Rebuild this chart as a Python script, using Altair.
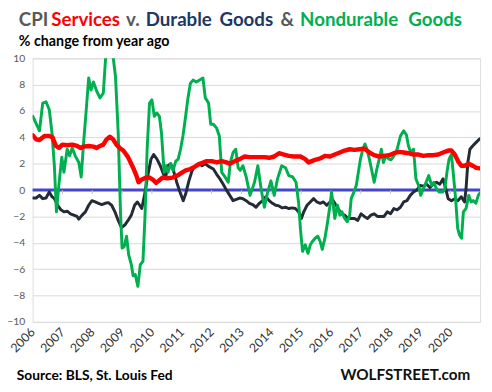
import altair as alt
import pandas as pd

# (year fraction, % change y/y)
services = [
    (2006.01, 4.15), (2006.12, 3.85), (2006.23, 3.8), (2006.40, 4.1), (2006.56, 4.1),
    (2006.67, 4.0), (2006.78, 3.35), (2006.89, 3.2), (2007.00, 3.45), (2007.16, 3.4),
    (2007.33, 3.45), (2007.49, 3.35), (2007.60, 3.2), (2007.71, 3.3), (2007.88, 3.35),
    (2008.04, 3.3), (2008.15, 3.2), (2008.26, 3.35), (2008.37, 3.45), (2008.48, 3.85),
    (2008.59, 4.05), (2008.70, 3.85), (2008.81, 3.45), (2008.92, 3.2), (2009.04, 3.0),
    (2009.20, 2.5), (2009.37, 1.7), (2009.48, 1.1), (2009.55, 0.6), (2009.66, 0.8),
    (2009.81, 0.95), (2009.92, 0.95), (2010.03, 0.8), (2010.14, 0.55), (2010.25, 0.75),
    (2010.36, 0.95), (2010.52, 0.9), (2010.69, 0.95), (2010.85, 1.1), (2011.02, 1.35),
    (2011.13, 1.5), (2011.29, 1.6), (2011.46, 1.8), (2011.60, 2.0), (2011.73, 2.1),
    (2011.84, 2.2), (2012.01, 2.2), (2012.17, 2.1), (2012.34, 2.2), (2012.50, 2.1),
    (2012.61, 2.0), (2012.78, 2.2), (2012.94, 2.35), (2013.11, 2.55), (2013.27, 2.5),
    (2013.44, 2.5), (2013.60, 2.5), (2013.77, 2.5), (2013.93, 2.45), (2014.10, 2.55),
    (2014.26, 2.8), (2014.43, 2.7), (2014.59, 2.6), (2014.76, 2.55), (2014.98, 2.55),
    (2015.14, 2.35), (2015.25, 2.1), (2015.36, 2.2), (2015.47, 2.3), (2015.64, 2.4),
    (2015.80, 2.6), (2015.97, 2.55), (2016.13, 2.7), (2016.30, 2.85), (2016.46, 3.0),
    (2016.63, 3.1), (2016.79, 3.05), (2016.96, 3.1), (2017.12, 3.15), (2017.29, 2.85),
    (2017.45, 2.65), (2017.62, 2.55), (2017.78, 2.6), (2017.95, 2.65), (2018.11, 2.8),
    (2018.28, 2.9), (2018.44, 2.85), (2018.60, 2.8), (2018.77, 2.7), (2018.94, 2.7),
    (2019.10, 2.6), (2019.27, 2.65), (2019.43, 2.65), (2019.60, 2.7), (2019.76, 2.85),
    (2019.93, 3.0), (2020.04, 3.0), (2020.15, 2.7), (2020.26, 2.2), (2020.37, 1.85),
    (2020.48, 1.85), (2020.62, 2.0), (2020.75, 1.85), (2020.86, 1.7), (2020.99, 1.65),
]

durable = [
    (2006.01, -0.6), (2006.12, -0.6), (2006.23, -0.4), (2006.34, -0.65), (2006.45, -0.6),
    (2006.56, -0.15), (2006.65, -0.5), (2006.73, -0.65), (2006.84, -1.15), (2006.95, -1.5),
    (2007.05, -1.65), (2007.16, -1.6), (2007.27, -1.8), (2007.38, -1.9), (2007.49, -2.0),
    (2007.55, -2.2), (2007.66, -1.9), (2007.77, -1.65), (2007.88, -1.15), (2007.99, -0.8),
    (2008.10, -0.9), (2008.21, -1.0), (2008.32, -1.1), (2008.43, -1.0), (2008.54, -0.95),
    (2008.65, -1.15), (2008.76, -1.65), (2008.87, -2.3), (2008.98, -2.85), (2009.09, -2.65),
    (2009.20, -2.3), (2009.31, -1.9), (2009.42, -1.15), (2009.51, -0.9), (2009.59, -1.15),
    (2009.66, -1.4), (2009.75, -0.4), (2009.86, 1.1), (2009.97, 2.35), (2010.06, 2.7),
    (2010.17, 2.35), (2010.28, 1.85), (2010.39, 1.2), (2010.47, 1.1), (2010.54, 1.85),
    (2010.63, 2.0), (2010.72, 1.5), (2010.83, 0.6), (2010.94, -0.15), (2011.05, -0.8),
    (2011.13, -0.3), (2011.24, 0.7), (2011.35, 1.5), (2011.46, 1.85), (2011.57, 2.0),
    (2011.68, 1.85), (2011.79, 2.0), (2011.90, 1.8), (2012.06, 1.6), (2012.17, 1.2),
    (2012.28, 0.85), (2012.39, 0.45), (2012.50, 0.0), (2012.61, -0.4), (2012.72, -0.8),
    (2012.83, -0.7), (2012.94, -0.6), (2013.05, -0.65), (2013.16, -0.8), (2013.27, -1.0),
    (2013.38, -1.1), (2013.49, -1.3), (2013.60, -1.0), (2013.71, -0.8), (2013.82, -0.5),
    (2013.93, -0.8), (2014.04, -1.0), (2014.15, -1.15), (2014.26, -1.2), (2014.37, -1.35),
    (2014.48, -1.3), (2014.59, -1.4), (2014.70, -1.35), (2014.81, -1.4), (2014.92, -1.65),
    (2015.01, -2.15), (2015.09, -1.65), (2015.20, -1.15), (2015.31, -0.9), (2015.42, -0.65),
    (2015.53, -0.9), (2015.64, -1.0), (2015.75, -0.9), (2015.86, -1.15), (2015.97, -0.9),
    (2016.04, -0.65), (2016.13, -1.0), (2016.24, -1.4), (2016.35, -1.8), (2016.46, -1.9),
    (2016.57, -2.15), (2016.68, -2.15), (2016.79, -2.15), (2016.90, -2.3), (2017.01, -1.8),
    (2017.12, -2.0), (2017.23, -2.15), (2017.34, -1.9), (2017.45, -1.8), (2017.56, -2.0),
    (2017.67, -2.0), (2017.78, -2.0), (2017.89, -1.65), (2018.00, -1.8), (2018.11, -1.4),
    (2018.22, -1.5), (2018.33, -1.3), (2018.44, -0.9), (2018.55, -0.8), (2018.66, -0.4),
    (2018.77, -0.15), (2018.88, 0.0), (2018.99, 0.35), (2019.10, 0.3), (2019.21, 0.45),
    (2019.32, 0.2), (2019.43, 0.45), (2019.54, 0.6), (2019.65, 0.45), (2019.76, 0.85),
    (2019.85, 0.1), (2019.93, -0.65), (2020.04, -0.8), (2020.15, -0.65), (2020.26, -0.8),
    (2020.37, -0.5), (2020.48, -0.9), (2020.53, 0.1), (2020.59, 2.1), (2020.66, 3.1),
    (2020.75, 3.35), (2020.86, 3.6), (2020.99, 3.9),
]

nondurable = [
    (2006.01, 5.6), (2006.23, 4.5), (2006.34, 6.6), (2006.45, 6.7), (2006.56, 6.1),
    (2006.65, 4.35), (2006.73, 1.85), (2006.80, -1.65), (2006.89, 0.6), (2006.98, 2.5),
    (2007.05, 1.35), (2007.16, 3.1), (2007.24, 2.6), (2007.33, 3.2), (2007.43, 2.6),
    (2007.55, 2.1), (2007.63, 1.0), (2007.71, 3.6), (2007.79, 5.85), (2007.88, 8.5),
    (2007.96, 7.6), (2008.04, 8.2), (2008.15, 7.5), (2008.26, 7.0), (2008.37, 7.35),
    (2008.45, 10.1), (2008.55, 10.6), (2008.65, 10.4), (2008.70, 10.1), (2008.78, 8.6),
    (2008.87, 4.35), (2008.95, -1.9), (2009.00, -4.4), (2009.07, -4.3), (2009.15, -3.5),
    (2009.22, -4.9), (2009.31, -5.65), (2009.37, -6.5), (2009.44, -6.4), (2009.53, -7.3),
    (2009.61, -5.65), (2009.70, -5.4), (2009.77, -1.9), (2009.84, 3.1), (2009.92, 6.6),
    (2010.00, 6.85), (2010.08, 5.6), (2010.17, 5.85), (2010.25, 5.6), (2010.32, 4.35),
    (2010.41, 1.35), (2010.47, 1.85), (2010.54, 1.35), (2010.63, 2.0), (2010.71, 1.5),
    (2010.80, 2.2), (2010.88, 2.35), (2010.96, 3.1), (2011.04, 4.1), (2011.13, 5.6),
    (2011.20, 6.85), (2011.29, 8.1), (2011.38, 8.35), (2011.49, 8.2), (2011.60, 8.35),
    (2011.71, 8.5), (2011.79, 7.0), (2011.90, 6.6), (2011.97, 5.0), (2012.06, 5.0),
    (2012.17, 4.7), (2012.26, 4.1), (2012.34, 1.35), (2012.45, 1.0), (2012.56, 0.6),
    (2012.63, 2.1), (2012.72, 2.85), (2012.81, 3.1), (2012.89, 1.7), (2012.96, 1.5),
    (2013.05, 1.85), (2013.16, 1.0), (2013.29, -0.4), (2013.44, 0.6), (2013.55, 1.85),
    (2013.66, 0.1), (2013.77, -1.3), (2013.88, -0.15), (2013.99, 0.7), (2014.10, -0.4),
    (2014.21, 0.85), (2014.35, 1.85), (2014.48, 1.7), (2014.59, 1.1), (2014.72, 1.0),
    (2014.83, 0.6), (2014.92, -1.0), (2014.98, -3.0), (2015.05, -4.65), (2015.14, -4.15),
    (2015.23, -4.8), (2015.31, -4.15), (2015.38, -3.9), (2015.47, -3.65), (2015.56, -3.5),
    (2015.64, -3.9), (2015.71, -4.5), (2015.80, -3.65), (2015.89, -2.4), (2015.97, -1.15),
    (2016.02, -0.15), (2016.08, -1.15), (2016.13, -2.15), (2016.22, -1.15), (2016.30, -1.9),
    (2016.37, -1.65), (2016.46, -2.15), (2016.55, -2.4), (2016.63, -1.9), (2016.68, -0.65),
    (2016.77, -0.15), (2016.85, 0.35), (2016.92, 1.35), (2016.99, 2.35), (2017.07, 3.1),
    (2017.14, 3.5), (2017.21, 3.1), (2017.29, 2.35), (2017.36, 1.6), (2017.45, 0.6),
    (2017.54, 1.6), (2017.62, 2.35), (2017.69, 3.1), (2017.76, 2.1), (2017.84, 2.6),
    (2017.95, 2.35), (2018.02, 2.3), (2018.11, 2.6), (2018.22, 3.1), (2018.33, 4.1),
    (2018.44, 4.5), (2018.53, 4.2), (2018.60, 3.35), (2018.68, 2.85), (2018.77, 3.1),
    (2018.85, 0.85), (2018.94, 0.35), (2019.01, -0.4), (2019.10, 0.1), (2019.19, 0.6),
    (2019.28, 1.1), (2019.38, 0.35), (2019.45, 0.6), (2019.54, 0.1), (2019.63, -0.15),
    (2019.74, -0.15), (2019.82, 0.1), (2019.89, 1.35), (2019.96, 2.35), (2020.04, 2.7),
    (2020.11, 1.1), (2020.18, -0.65), (2020.25, -2.9), (2020.31, -3.4), (2020.38, -3.65),
    (2020.44, -1.65), (2020.53, -1.4), (2020.62, -0.4), (2020.70, -0.9), (2020.77, -0.8),
    (2020.86, -1.0), (2020.94, -0.4), (2021.00, -0.2),
]

years = list(range(2006, 2021))
y_ticks = list(range(-10, 11, 2))
tick_years = list(range(2007, 2021))

FONT = "Lato"

def frame(pairs):
    return pd.DataFrame(pairs, columns=["t", "v"])

X_AXIS = alt.Axis(
    values=years, format="d", labelAngle=-45, labelAlign="right",
    labelBaseline="middle", labelPadding=8, labelFontSize=12.5,
    labelColor="#333333", labelFont=FONT, grid=False, domain=False,
    ticks=False, title=None, labelOverlap=False, labelBound=False,
)
Y_AXIS = alt.Axis(
    values=y_ticks, grid=True, gridColor="#D9D9D9", gridWidth=1,
    domain=False, ticks=False, labelPadding=8, labelFontSize=10.5,
    labelColor="#595959", labelFont=FONT, title=None,
    labelOverlap=False, labelBound=False,
)
X_SCALE = alt.Scale(domain=[2006, 2021], nice=False, zero=False)
Y_SCALE = alt.Scale(domain=[-10, 10], nice=False, zero=False)

def xe(field="t"):
    return alt.X(f"{field}:Q", scale=X_SCALE, axis=X_AXIS)

def ye(field="v"):
    return alt.Y(f"{field}:Q", scale=Y_SCALE, axis=Y_AXIS)

zero_df = pd.DataFrame({"t": [2006, 2021], "v": [0, 0]})
zero_line = alt.Chart(zero_df).mark_line(color="#4444CC", strokeWidth=3).encode(
    x=xe(), y=ye()
)

tick_df = pd.DataFrame({"t": tick_years, "v": [0] * len(tick_years), "v2": [-0.3] * len(tick_years)})
tick_marks = alt.Chart(tick_df).mark_rule(color="#BFBFBF", strokeWidth=1).encode(
    x=xe(), y=ye(), y2="v2:Q"
)

def series_line(pairs, color, width):
    return alt.Chart(frame(pairs)).mark_line(
        color=color, strokeWidth=width, clip=True, strokeJoin="round", strokeCap="round"
    ).encode(x=xe(), y=ye())

dur_line = series_line(durable, "#232B36", 3)
nd_line = series_line(nondurable, "#00B050", 3)
svc_line = series_line(services, "#FF0000", 4.5)

one = pd.DataFrame({"k": [0]})

def label(text, x, y, color, size, align="left"):
    return alt.Chart(one).mark_text(
        text=text, align=align, baseline="alphabetic", font=FONT,
        fontWeight="bold", fontSize=size, color=color,
    ).encode(x=alt.value(x), y=alt.value(y))

TS = 19
TY = -33
title_parts = [
    label("CPI", -14, TY, "#595959", TS),
    label("Services", 19, TY, "#FF0000", TS),
    label("v.", 95, TY, "#595959", TS),
    label("Durable", 115, TY, "#203864", TS),
    label("Goods", 190, TY, "#203864", TS),
    label("&", 252, TY, "#595959", TS),
    label("Nondurable", 272, TY, "#00B050", TS),
    label("Goods", 382, TY, "#00B050", TS),
    label("% change from year ago", -14, -13, "#000000", 14.5),
    label("Source: BLS, St. Louis Fed", -16, 327, "#000000", 14),
    label("WOLFSTREET.com", 445, 327, "#111111", 15.5, align="right"),
]

chart = alt.layer(
    zero_line, tick_marks, dur_line, nd_line, svc_line, *title_parts
).properties(
    width=455,
    height=268,
    padding={"left": 25, "top": 48, "right": 4, "bottom": 60},
    autosize=alt.AutoSizeParams(type="none"),
).configure_view(stroke=None).configure_axis(labelOverlap=False).configure(background="white")

chart.save("out.html", embed_options={"renderer": "svg", "actions": False})
